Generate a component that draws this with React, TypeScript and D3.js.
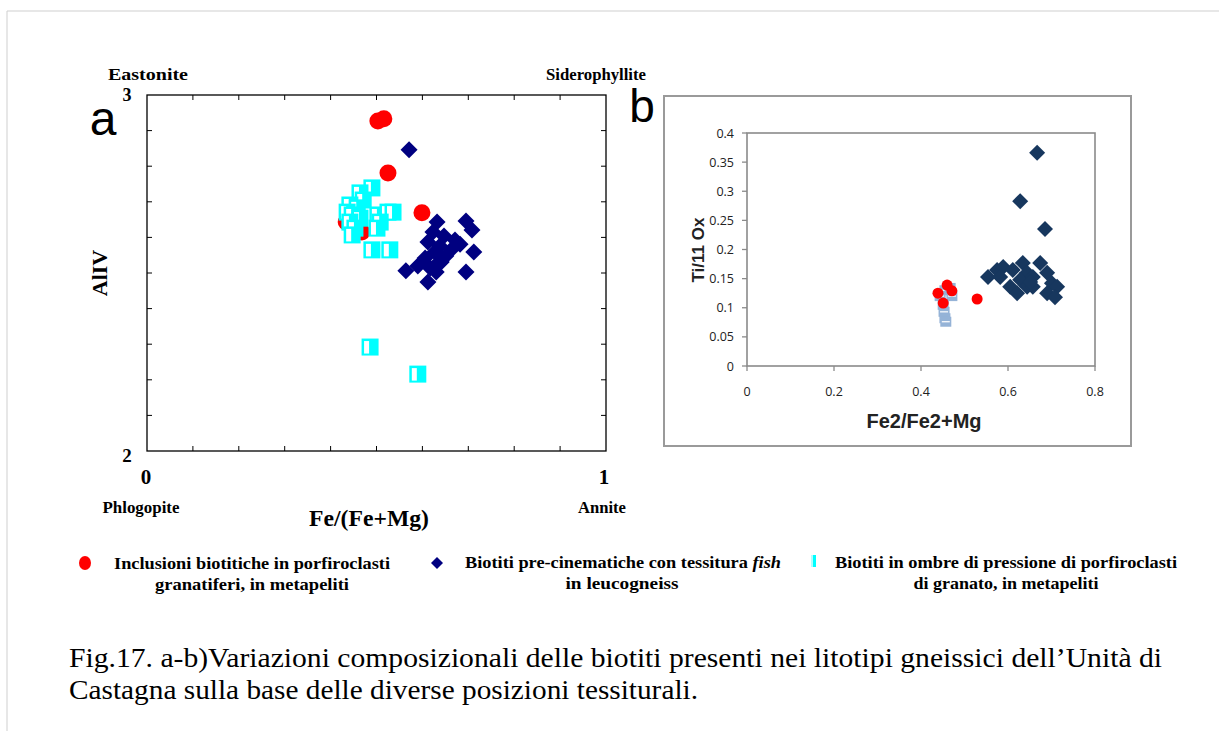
import React from "react";
import * as d3 from "d3";

// ---------- Panel a data: Fe/(Fe+Mg) vs AlIV ----------
const aRedX = [0.503, 0.516, 0.525, 0.599, 0.434, 0.468];
const aRedY = [2.927, 2.933, 2.781, 2.669, 2.643, 2.615];

const aNavyX = [0.571, 0.632, 0.623, 0.695, 0.708, 0.671, 0.612, 0.638, 0.682, 0.712, 0.695, 0.564, 0.590, 0.612, 0.630, 0.641, 0.651, 0.606, 0.627, 0.664, 0.647, 0.636, 0.617];
const aNavyY = [2.846, 2.643, 2.615, 2.646, 2.621, 2.593, 2.587, 2.576, 2.581, 2.559, 2.503, 2.506, 2.520, 2.475, 2.503, 2.531, 2.548, 2.542, 2.559, 2.567, 2.604, 2.531, 2.514];

const aCyanX = [0.490, 0.464, 0.471, 0.442, 0.458, 0.436, 0.447, 0.464, 0.442, 0.453, 0.447, 0.503, 0.525, 0.536, 0.508, 0.501, 0.490, 0.529, 0.486, 0.590];
const aCyanY = [2.739, 2.725, 2.705, 2.691, 2.683, 2.671, 2.663, 2.654, 2.643, 2.626, 2.607, 2.663, 2.671, 2.671, 2.643, 2.626, 2.565, 2.565, 2.292, 2.216];

const aXTicks = [0, 0.1, 0.2, 0.3, 0.4, 0.5, 0.6, 0.7, 0.8, 0.9, 1];
const aYTicks = [2, 2.1, 2.2, 2.3, 2.4, 2.5, 2.6, 2.7, 2.8, 2.9, 3];

// ---------- Panel b data: Fe2/Fe2+Mg vs Ti/11 Ox ----------
const bNavyX = [0.667, 0.628, 0.685, 0.554, 0.575, 0.589, 0.611, 0.634, 0.644, 0.628, 0.605, 0.621, 0.644, 0.657, 0.674, 0.690, 0.701, 0.713, 0.690, 0.708, 0.657, 0.582, 0.651];
const bNavyY = [0.366, 0.283, 0.235, 0.153, 0.165, 0.170, 0.165, 0.177, 0.160, 0.148, 0.136, 0.125, 0.136, 0.153, 0.177, 0.160, 0.142, 0.136, 0.125, 0.118, 0.136, 0.153, 0.144];

const bRedX = [0.460, 0.439, 0.471, 0.451, 0.529];
const bRedY = [0.139, 0.125, 0.129, 0.108, 0.115];

const bBlueX = [0.455, 0.471, 0.444, 0.451, 0.453, 0.455, 0.457, 0.467];
const bBlueY = [0.130, 0.120, 0.120, 0.105, 0.093, 0.082, 0.076, 0.134];

const bXTicks = [0, 0.2, 0.4, 0.6, 0.8];
const bYTicks = [0, 0.05, 0.1, 0.15, 0.2, 0.25, 0.3, 0.35, 0.4];

const legendLines1 = ["Inclusioni biotitiche in porfiroclasti", "granatiferi, in metapeliti"];
const legendLines2a = "Biotiti pre-cinematiche con tessitura ";
const legendLines2b = "fish";
const legendLine2c = "in leucogneiss";
const legendLines3 = ["Biotiti in ombre di pressione di porfiroclasti", "di granato, in metapeliti"];
const caption = [
  "Fig.17. a-b)Variazioni composizionali delle biotiti presenti nei litotipi gneissici dell\u2019Unit\u00e0 di",
  "Castagna sulla base delle diverse posizioni tessiturali.",
];

const SERIF = "'Liberation Serif', 'Times New Roman', serif";
const SANS = "'Liberation Sans', Arial, sans-serif";
const BSANS = "'Open Sans', 'Liberation Sans', sans-serif";

export default function App() {
  // panel a scales
  const ax = d3.scaleLinear().domain([0, 1]).range([147, 606]);
  const ay = d3.scaleLinear().domain([2, 3]).range([451, 95]);
  // panel b scales
  const bx = d3.scaleLinear().domain([0, 0.8]).range([747, 1095]);
  const by = d3.scaleLinear().domain([0, 0.4]).range([366, 133]);

  const diamond = (cx: number, cy: number, h: number) =>
    `M${cx},${cy - h}L${cx + h},${cy}L${cx},${cy + h}L${cx - h},${cy}Z`;

  const tickLen = 5;

  return (
    <svg
      width={1219}
      height={731}
      style={{ position: "absolute", left: 0, top: 0, background: "#fff" }}
    >
      <rect x={0} y={0} width={1219} height={731} fill="#fff" />
      {/* page border */}
      <line x1={7} y1={11} x2={1219} y2={11} stroke="#cfcfcf" strokeWidth={1} />
      <line x1={7} y1={11} x2={7} y2={731} stroke="#cfcfcf" strokeWidth={1} />

      {/* ================= Panel a ================= */}
      <rect x={ax(0)} y={ay(3)} width={ax(1) - ax(0)} height={ay(2) - ay(3)} fill="none" stroke="#000" strokeWidth={1.3} />
      {aXTicks.slice(1, -1).map((t) => (
        <g key={"axt" + t}>
          <line x1={ax(t)} x2={ax(t)} y1={ay(2)} y2={ay(2) - tickLen} stroke="#000" strokeWidth={1} />
          <line x1={ax(t)} x2={ax(t)} y1={ay(3)} y2={ay(3) + tickLen} stroke="#000" strokeWidth={1} />
        </g>
      ))}
      {aYTicks.slice(1, -1).map((t) => (
        <g key={"ayt" + t}>
          <line x1={ax(0)} x2={ax(0) + tickLen} y1={ay(t)} y2={ay(t)} stroke="#000" strokeWidth={1} />
          <line x1={ax(1)} x2={ax(1) - tickLen} y1={ay(t)} y2={ay(t)} stroke="#000" strokeWidth={1} />
        </g>
      ))}
      <text x={127} y={ay(3) + 6} fontFamily={SERIF} fontWeight="bold" fontSize={18} textAnchor="middle">3</text>
      <text x={127} y={ay(2) + 11} fontFamily={SERIF} fontWeight="bold" fontSize={19} textAnchor="middle">2</text>
      <text x={ax(0) - 1} y={484} fontFamily={SERIF} fontWeight="bold" fontSize={21} textAnchor="middle">0</text>
      <text x={ax(1) - 2} y={484} fontFamily={SERIF} fontWeight="bold" fontSize={21} textAnchor="middle">1</text>
      <text x={148} y={80} fontFamily={SERIF} fontWeight="bold" fontSize={16} textAnchor="middle" textLength={80} lengthAdjust="spacingAndGlyphs">Eastonite</text>
      <text x={596} y={80} fontFamily={SERIF} fontWeight="bold" fontSize={16} textAnchor="middle" textLength={100} lengthAdjust="spacingAndGlyphs">Siderophyllite</text>
      <text x={141} y={513} fontFamily={SERIF} fontWeight="bold" fontSize={17} textAnchor="middle" textLength={77} lengthAdjust="spacingAndGlyphs">Phlogopite</text>
      <text x={602} y={513} fontFamily={SERIF} fontWeight="bold" fontSize={17} textAnchor="middle" textLength={48} lengthAdjust="spacingAndGlyphs">Annite</text>
      <text x={369} y={526} fontFamily={SERIF} fontWeight="bold" fontSize={23} textAnchor="middle" textLength={120} lengthAdjust="spacingAndGlyphs">Fe/(Fe+Mg)</text>
      <text transform="translate(107,273) rotate(-90)" fontFamily={SERIF} fontWeight="bold" fontSize={22} textAnchor="middle">AlIV</text>
      <text x={103} y={135} fontFamily={SANS} fontSize={48} textAnchor="middle">a</text>

      {aNavyX.map((v, i) => (
        <path key={"an" + i} d={diamond(ax(v), ay(aNavyY[i]), 8.5)} fill="#000080" />
      ))}
      {aRedX.map((v, i) => (
        <circle key={"ar" + i} cx={ax(v)} cy={ay(aRedY[i])} r={8.5} fill="#ff0000" />
      ))}
      {aCyanX.map((v, i) => {
        const cx = ax(v);
        const cy = ay(aCyanY[i]);
        return (
          <g key={"ac" + i}>
            <rect x={cx - 8.5} y={cy - 8.5} width={17} height={17} fill="#00ffff" />
            <rect x={cx - 6} y={cy - 6} width={5} height={12.5} fill="#fff" />
          </g>
        );
      })}

      {/* ================= Panel b ================= */}
      <rect x={664} y={96} width={467} height={350} fill="none" stroke="#9a9a9a" strokeWidth={2} />
      <text x={642} y={122} fontFamily={SANS} fontSize={46} textAnchor="middle">b</text>
      <rect x={bx(0)} y={by(0.4)} width={bx(0.8) - bx(0)} height={by(0) - by(0.4)} fill="none" stroke="#8a8a8a" strokeWidth={1.6} />
      {bYTicks.map((t) => (
        <g key={"byt" + t}>
          <line x1={bx(0) - 5} x2={bx(0)} y1={by(t)} y2={by(t)} stroke="#8a8a8a" strokeWidth={1.3} />
          <text x={bx(0) - 13} y={by(t) + 4.5} fontFamily={BSANS} fontSize={12.5} textAnchor="end" fill="#222">{String(t)}</text>
        </g>
      ))}
      {bXTicks.map((t) => (
        <g key={"bxt" + t}>
          <line x1={bx(t)} x2={bx(t)} y1={by(0)} y2={by(0) + 5} stroke="#8a8a8a" strokeWidth={1.3} />
          <text x={bx(t)} y={396} fontFamily={BSANS} fontSize={12.5} textAnchor="middle" fill="#222">{String(t)}</text>
        </g>
      ))}
      <text x={924} y={428} fontFamily={SANS} fontWeight="bold" fontSize={20} textAnchor="middle" fill="#222">Fe2/Fe2+Mg</text>
      <text transform="translate(704,250) rotate(-90)" fontFamily={SANS} fontWeight="bold" fontSize={17} textAnchor="middle" fill="#222">Ti/11 Ox</text>

      {bNavyX.map((v, i) => (
        <path key={"bn" + i} d={diamond(bx(v), by(bNavyY[i]), 8)} fill="#17375e" />
      ))}
      {bBlueX.map((v, i) => {
        const cx = bx(v);
        const cy = by(bBlueY[i]);
        return (
          <g key={"bb" + i}>
            <rect x={cx - 5.5} y={cy - 5} width={11} height={10} fill="#95b3d7" />
            <line x1={cx - 4} x2={cx + 4} y1={cy} y2={cy} stroke="#fff" strokeWidth={1.2} />
          </g>
        );
      })}
      {bRedX.map((v, i) => (
        <circle key={"br" + i} cx={bx(v)} cy={by(bRedY[i])} r={5.5} fill="#ff0000" />
      ))}

      {/* ================= Legend ================= */}
      <ellipse cx={85} cy={563} rx={6} ry={7} fill="#ff0000" />
      <text x={252} y={569} fontFamily={SERIF} fontWeight="bold" fontSize={17} textAnchor="middle" textLength={276} lengthAdjust="spacingAndGlyphs">{legendLines1[0]}</text>
      <text x={252} y={590} fontFamily={SERIF} fontWeight="bold" fontSize={17} textAnchor="middle" textLength={194} lengthAdjust="spacingAndGlyphs">{legendLines1[1]}</text>

      <path d={diamond(437, 563, 6)} fill="#000080" />
      <text x={465} y={568} fontFamily={SERIF} fontWeight="bold" fontSize={17} textLength={316} lengthAdjust="spacingAndGlyphs">
        {legendLines2a}<tspan fontStyle="italic">{legendLines2b}</tspan>
      </text>
      <text x={622} y={589} fontFamily={SERIF} fontWeight="bold" fontSize={17} textAnchor="middle" textLength={113} lengthAdjust="spacingAndGlyphs">{legendLine2c}</text>

      <rect x={811} y={555} width={5} height={12} fill="#00ffff" />
      <rect x={811} y={555} width={2} height={12} fill="#b0ffff" />
      <text x={1006} y={568} fontFamily={SERIF} fontWeight="bold" fontSize={17} textAnchor="middle" textLength={342} lengthAdjust="spacingAndGlyphs">{legendLines3[0]}</text>
      <text x={1006} y={589} fontFamily={SERIF} fontWeight="bold" fontSize={17} textAnchor="middle" textLength={185} lengthAdjust="spacingAndGlyphs">{legendLines3[1]}</text>

      {/* ================= Caption ================= */}
      <text x={69} y={667} fontFamily={SERIF} fontSize={27} textLength={1093} lengthAdjust="spacingAndGlyphs">{caption[0]}</text>
      <text x={69} y={699} fontFamily={SERIF} fontSize={27} textLength={629} lengthAdjust="spacingAndGlyphs">{caption[1]}</text>
    </svg>
  );
}
